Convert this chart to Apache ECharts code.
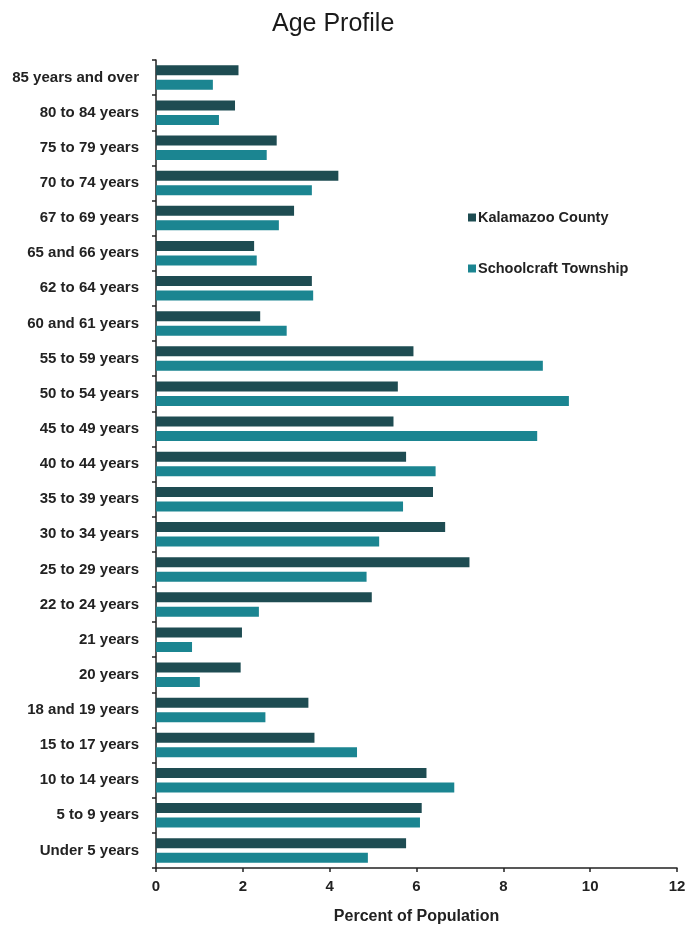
<!DOCTYPE html>
<html>
<head>
<meta charset="utf-8">
<script src="https://cdn.jsdelivr.net/npm/echarts@6/dist/echarts.min.js"></script>
<style>
  html, body { margin: 0; padding: 0; background: #fff; }
  #chart { width: 689px; height: 930px; }
</style>
</head>
<body>
<div id="chart"></div>
<script>
// Age groups, listed bottom to top as drawn on the category axis
const ageGroups = [
  'Under 5 years', '5 to 9 years', '10 to 14 years', '15 to 17 years',
  '18 and 19 years', '20 years', '21 years', '22 to 24 years',
  '25 to 29 years', '30 to 34 years', '35 to 39 years', '40 to 44 years',
  '45 to 49 years', '50 to 54 years', '55 to 59 years', '60 and 61 years',
  '62 to 64 years', '65 and 66 years', '67 to 69 years', '70 to 74 years',
  '75 to 79 years', '80 to 84 years', '85 years and over'
];

// Percent of population in each age group
const kalamazooCounty = [
  5.76, 6.12, 6.23, 3.65, 3.51, 1.95, 1.98, 4.97,
  7.22, 6.66, 6.38, 5.76, 5.47, 5.57, 5.93, 2.40,
  3.59, 2.26, 3.18, 4.20, 2.78, 1.82, 1.90
];
const schoolcraftTownship = [
  4.88, 6.08, 6.87, 4.63, 2.52, 1.01, 0.83, 2.37,
  4.85, 5.14, 5.69, 6.44, 8.78, 9.51, 8.91, 3.01,
  3.62, 2.32, 2.83, 3.59, 2.55, 1.45, 1.31
];

const xTicks = [0, 2, 4, 6, 8, 10, 12];

const labelFont = "'Liberation Sans', Arial, sans-serif";
const chart = echarts.init(document.getElementById('chart'), null, { renderer: 'canvas' });

chart.setOption({
  backgroundColor: '#ffffff',
  animation: false,
  title: {
    text: 'Age Profile',
    left: 267,
    top: 7,
    textStyle: {
      fontFamily: "'Liberation Sans', sans-serif",
      fontSize: 25,
      fontWeight: 'normal',
      color: '#1a1a1a'
    }
  },
  legend: {
    orient: 'vertical',
    left: 463,
    top: 205,
    itemGap: 36,
    itemWidth: 8,
    itemHeight: 8,
    icon: 'rect',
    textStyle: {
      fontFamily: labelFont,
      fontWeight: 'bold',
      fontSize: 14.5,
      color: '#222',
      padding: [0, 0, 0, -3]
    },
    data: ['Kalamazoo County', 'Schoolcraft Township']
  },
  grid: { left: 156, right: 12, top: 60, bottom: 62, containLabel: false },
  xAxis: {
    type: 'value',
    min: xTicks[0],
    max: xTicks[xTicks.length - 1],
    interval: 2,
    name: 'Percent of Population',
    nameLocation: 'middle',
    nameGap: 41,
    nameTextStyle: { fontFamily: labelFont, fontWeight: 'bold', fontSize: 16, color: '#222' },
    axisLine: { show: true, lineStyle: { color: '#222', width: 1.5 } },
    axisTick: { show: true, length: 4, lineStyle: { color: '#222', width: 1.5 } },
    axisLabel: {
      fontFamily: labelFont, fontWeight: 'bold', fontSize: 15, color: '#222', margin: 11,
      formatter: v => String(v)
    },
    splitLine: { show: false }
  },
  yAxis: {
    type: 'category',
    data: ageGroups,
    boundaryGap: true,
    axisLine: { show: true, lineStyle: { color: '#222', width: 1.5 } },
    axisTick: { show: true, length: 4, alignWithLabel: false, lineStyle: { color: '#222', width: 1.5 } },
    axisLabel: {
      fontFamily: labelFont, fontWeight: 'bold', fontSize: 15, color: '#222', margin: 17
    }
  },
  series: [
    {
      name: 'Kalamazoo County',
      type: 'bar',
      data: kalamazooCounty,
      barWidth: 10,
      barGap: '45%',
      itemStyle: { color: '#1e4c52' }
    },
    {
      name: 'Schoolcraft Township',
      type: 'bar',
      data: schoolcraftTownship,
      barWidth: 10,
      barGap: '45%',
      itemStyle: { color: '#1b8591' }
    }
  ]
});
</script>
</body>
</html>
